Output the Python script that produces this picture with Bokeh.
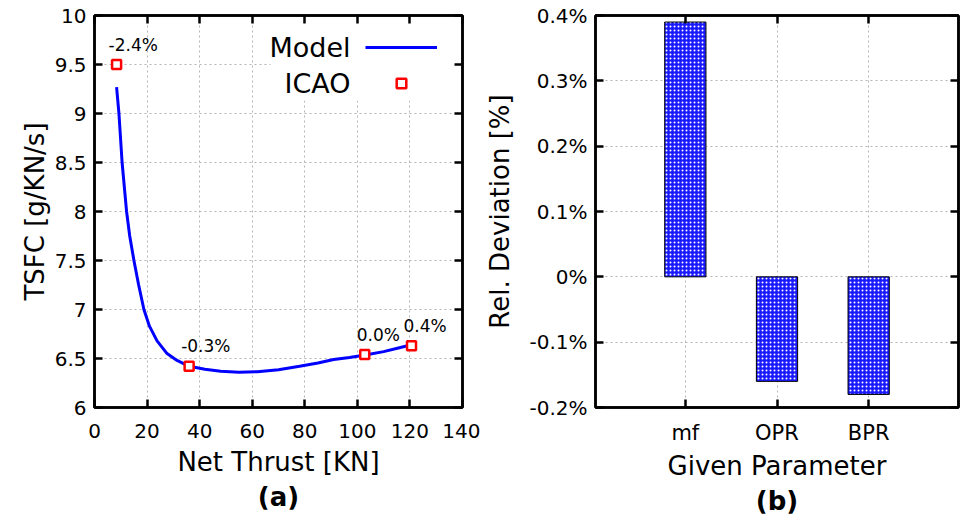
from bokeh.plotting import figure
from bokeh.layouts import row
from bokeh.models import (ColumnDataSource, LinearAxis, CategoricalAxis, FixedTicker,
                          NumeralTickFormatter, CustomJSTickFormatter, Legend, LegendItem,
                          Label, BoxAnnotation, FactorRange, CustomLabelingPolicy)
from bokeh.core.properties import value
from bokeh.embed import file_html
from bokeh.resources import INLINE

FONT = "DejaVu Sans"

# ---- data (a): TSFC vs net thrust ----
model_thrust = [8.4, 9.3, 10.5, 12.2, 13.4, 15.0, 16.8, 18.8, 20.9, 23.8, 27.6, 31.4, 36.0,
                42.0, 48.0, 55.0, 62.0, 70.0, 78.0, 85.0, 91.0, 97.0, 103.0, 110.0, 116.0, 120.6]
model_tsfc = [9.27, 9.0, 8.5, 8.0, 7.75, 7.5, 7.25, 7.0, 6.83, 6.68, 6.55, 6.48, 6.42,
              6.39, 6.37, 6.36, 6.365, 6.385, 6.42, 6.455, 6.49, 6.51, 6.535, 6.57, 6.61, 6.64]
icao_thrust = [8.4, 36.0, 102.8, 120.6]
icao_tsfc = [9.5, 6.42, 6.54, 6.63]
icao_dev = [-2.4, -0.3, 0.0, 0.4]
x_ticks_a = [0, 20, 40, 60, 80, 100, 120, 140]
y_ticks_a = [6, 6.5, 7, 7.5, 8, 8.5, 9, 9.5, 10]

# ---- data (b): relative deviation per given parameter ----
params = ["mf", "OPR", "BPR"]
rel_dev = [0.39, -0.16, -0.18]
y_ticks_b = [-0.2, -0.1, 0.0, 0.1, 0.2, 0.3, 0.4]

GRID_COLOR = "#b4b4b4"
GRID_DASH = "2 3"

HIDE_LABELS = "for (const i of indices) indices.unset(i)"


def style_axis(ax, labels=True, label_size="20px"):
    ax.axis_line_color = "black"
    ax.axis_line_width = 2.5
    ax.major_tick_in = 8
    ax.major_tick_out = 0
    ax.major_tick_line_color = "black"
    ax.major_tick_line_width = 2.5
    ax.minor_tick_in = 0
    ax.minor_tick_out = 0
    ax.major_label_text_font = FONT
    ax.major_label_text_color = "black"
    ax.axis_label_text_font = FONT
    ax.axis_label_text_font_style = "normal"
    ax.axis_label_text_color = "black"
    ax.axis_label_text_font_size = "26px"
    if labels:
        ax.major_label_text_font_size = label_size
        ax.major_label_standoff = 8
    else:
        ax.major_label_text_font_size = "1px"
        ax.major_label_standoff = 0
        ax.major_label_policy = CustomLabelingPolicy(code=HIDE_LABELS)
        ax.axis_label = None


def panel_tag(text):
    # an empty axis below the x axis that only carries the bold panel tag
    ax = LinearAxis(ticker=FixedTicker(ticks=[]), axis_label=text)
    ax.axis_line_alpha = 0
    ax.major_tick_in = 0
    ax.major_tick_out = 0
    ax.minor_tick_in = 0
    ax.minor_tick_out = 0
    ax.major_label_standoff = 0
    ax.major_label_text_font_size = "1px"
    ax.axis_label_standoff = 2
    ax.axis_label_text_font = FONT
    ax.axis_label_text_font_size = "26px"
    ax.axis_label_text_font_style = "bold"
    ax.axis_label_text_color = "black"
    return ax


# ================= (a) =================
p1 = figure(width=480, height=519, x_range=(0, 140), y_range=(6, 10),
            output_backend="svg", toolbar_location=None,
            min_border_left=94, min_border_right=18, min_border_top=15, min_border_bottom=112)
p1.background_fill_color = "white"
p1.border_fill_color = "white"
p1.outline_line_color = "black"
p1.outline_line_width = 2.5

p1.xaxis.ticker = FixedTicker(ticks=x_ticks_a)
p1.yaxis.ticker = FixedTicker(ticks=y_ticks_a)
p1.yaxis.formatter = NumeralTickFormatter(format="0.[0]")
p1.xaxis.axis_label = "Net Thrust [KN]"
p1.yaxis.axis_label = "TSFC [g/KN/s]"
style_axis(p1.xaxis[0])
style_axis(p1.yaxis[0])
p1.xaxis.major_label_standoff = 16
p1.xaxis.axis_label_standoff = 6
p1.yaxis.axis_label_standoff = 2

top1 = LinearAxis(ticker=FixedTicker(ticks=x_ticks_a))
right1 = LinearAxis(ticker=FixedTicker(ticks=y_ticks_a))
style_axis(top1, labels=False)
style_axis(right1, labels=False)
p1.add_layout(top1, "above")
p1.add_layout(right1, "right")
p1.add_layout(panel_tag("(a)"), "below")

for g, t in ((p1.xgrid, x_ticks_a), (p1.ygrid, y_ticks_a)):
    g.ticker = FixedTicker(ticks=t)
    g.grid_line_color = GRID_COLOR
    g.grid_line_dash = GRID_DASH
    g.grid_line_width = 1

# white key box (clears grid behind the key)
key_box = BoxAnnotation(left=67, right=139.3, bottom=9.13, top=9.97, fill_color="white",
                        fill_alpha=1.0, line_alpha=0, level="underlay")
p1.add_layout(key_box)

r_line = p1.line(model_thrust, model_tsfc, line_color="#0000ff", line_width=3)
src_icao = ColumnDataSource(dict(x=icao_thrust, y=icao_tsfc,
                                 lab=[f"{d:.1f}%" for d in icao_dev]))
r_pts = p1.scatter("x", "y", source=src_icao, marker="square", size=9,
                   fill_color="white", line_color="#ff0000", line_width=2.5)
p1.text("x", "y", text="lab", source=src_icao, x_offset=-8, y_offset=-20,
        text_align="left", text_baseline="middle", text_font=value(FONT),
        text_font_size="17px", text_color="black")

legend = Legend(items=[LegendItem(label=value(" "), renderers=[r_line]),
                       LegendItem(label=value(" "), renderers=[r_pts])],
                location=(271, 309), orientation="vertical",
                glyph_width=72, glyph_height=24, label_width=0, label_height=30,
                label_standoff=0, spacing=6, padding=0, margin=0,
                border_line_alpha=0, background_fill_alpha=0,
                label_text_font_size="8px")
p1.add_layout(legend)
p1.add_layout(Label(x=97.4, y=9.673, text="Model", text_align="right", text_baseline="middle",
                    text_font=FONT, text_font_size="27px", text_color="black"))
p1.add_layout(Label(x=97.4, y=9.306, text="ICAO", text_align="right", text_baseline="middle",
                    text_font=FONT, text_font_size="27px", text_color="black"))

# ================= (b) =================
p2 = figure(width=483, height=519, x_range=FactorRange(factors=params, range_padding=0.32),
            y_range=(-0.2, 0.4), output_backend="svg", toolbar_location=None,
            min_border_left=115, min_border_right=1, min_border_top=15, min_border_bottom=112)
p2.background_fill_color = "white"
p2.border_fill_color = "white"
p2.outline_line_color = "black"
p2.outline_line_width = 2.5

p2.yaxis.ticker = FixedTicker(ticks=y_ticks_b)
p2.yaxis.formatter = CustomJSTickFormatter(code="return (Math.round(tick*10)/10) + '%';")
p2.xaxis.axis_label = "Given Parameter"
p2.yaxis.axis_label = "Rel. Deviation [%]"
style_axis(p2.xaxis[0], label_size="21px")
style_axis(p2.yaxis[0])
p2.xaxis.major_label_standoff = 13
p2.xaxis.axis_label_standoff = 3
p2.yaxis.axis_label_standoff = 11

top2 = CategoricalAxis()
right2 = LinearAxis(ticker=FixedTicker(ticks=y_ticks_b))
style_axis(top2, labels=False)
style_axis(right2, labels=False)
p2.add_layout(top2, "above")
p2.add_layout(right2, "right")
p2.add_layout(panel_tag("(b)"), "below")

p2.ygrid.ticker = FixedTicker(ticks=y_ticks_b)
for g in (p2.xgrid, p2.ygrid):
    g.grid_line_color = GRID_COLOR
    g.grid_line_dash = GRID_DASH
    g.grid_line_width = 1

src_b = ColumnDataSource(dict(p=params, v=rel_dev))
p2.vbar(x="p", top="v", bottom=0, width=0.45, source=src_b,
        fill_color="#1a1aff", line_color="black", line_width=1,
        hatch_pattern="dot", hatch_color="white", hatch_scale=4, hatch_weight=1.5)

layout = row(p1, p2, spacing=0)
open("out.html", "w").write(file_html(layout, INLINE))
